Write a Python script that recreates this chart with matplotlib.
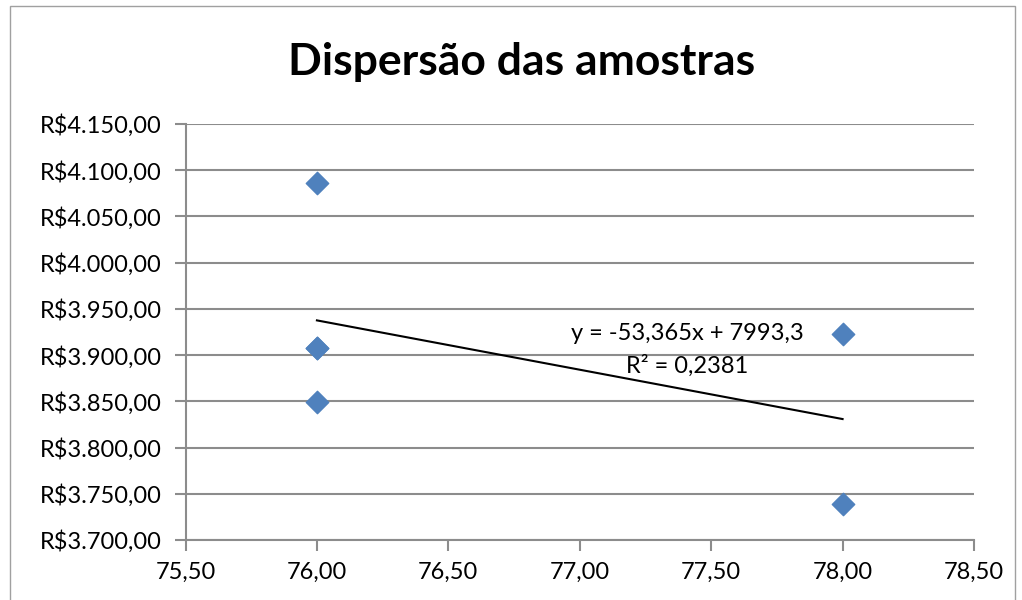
import numpy as np
import matplotlib
matplotlib.use('Agg')
import matplotlib.pyplot as plt
from matplotlib.ticker import FuncFormatter, MultipleLocator
from matplotlib.patches import Rectangle

#Data
x_vals = [76, 76, 76, 76, 78, 78]
y_vals = [4085.9, 3907.4, 3907.4, 3849.56, 3923.125, 3738.545]
title = 'Dispersão das amostras'
blue = '#4F81BD'
grid_gray = '#8C8C8C'

def br_num(v, dec):
    s = f'{v:,.{dec}f}'
    return s.replace(',', 'X').replace('.', ',').replace('X', '.')

def money(v, pos):
    return 'R$' + br_num(v, 2)

def plain(v, pos):
    return br_num(v, 2)

#--------------------------------------------------------------------------------
if __name__ == '__main__':

    plt.rcParams['font.family'] = ['Lato', 'DejaVu Sans']

    fig = plt.figure(figsize=(10.22, 6.0), dpi=100)
    ax = fig.add_axes([185.5/1022, 1 - 540/600, (974-185.5)/1022, (540-124)/600])

    #Outer chart border
    fig.patches.append(Rectangle((10/1022, -0.05), 1005/1022, 1.04, transform=fig.transFigure,
                                 fill=False, edgecolor='#A0A0A0', linewidth=1.0))

    ax.scatter(x_vals, y_vals, marker='D', s=130, color=blue, edgecolors=blue, zorder=3)

    #Trendline
    xa = np.array(x_vals, dtype=float)
    ya = np.array(y_vals, dtype=float)
    slope, intercept = np.polyfit(xa, ya, 1)
    pred = slope * xa + intercept
    r2 = 1 - np.sum((ya - pred)**2) / np.sum((ya - ya.mean())**2)
    xt = np.array([xa.min(), xa.max()])
    ax.plot(xt, slope * xt + intercept, color='black', linewidth=1.5, zorder=2)

    eq = 'y = ' + f'{slope:.3f}'.replace('.', ',') + 'x + ' + f'{intercept:.1f}'.replace('.', ',')
    ax.text(77.41, 3923, eq, ha='center', va='center', fontsize=17)
    ax.text(77.41, 3889, 'R² = ' + f'{r2:.4f}'.replace('.', ','), ha='center', va='center', fontsize=17)

    ax.set_xlim(75.5, 78.5)
    ax.set_ylim(3700, 4150)
    ax.xaxis.set_major_locator(MultipleLocator(0.5))
    ax.yaxis.set_major_locator(MultipleLocator(50))
    ax.xaxis.set_major_formatter(FuncFormatter(plain))
    ax.yaxis.set_major_formatter(FuncFormatter(money))

    ax.grid(axis='y', color=grid_gray, linewidth=1.5)
    ax.set_axisbelow(True)
    for s in ['top', 'right']:
        ax.spines[s].set_visible(False)
    for s in ['left', 'bottom']:
        ax.spines[s].set_color(grid_gray)
        ax.spines[s].set_linewidth(1.5)
    ax.tick_params(axis='both', colors=grid_gray, labelcolor='black', labelsize=17,
                   length=8, width=1.5, direction='out')
    ax.tick_params(axis='y', pad=9)
    ax.tick_params(axis='x', pad=8)

    fig.text(522/1022, 1 - 62/600, title, ha='center', va='center', fontsize=32, fontweight='bold')

    plt.savefig('out.png', dpi=100)
